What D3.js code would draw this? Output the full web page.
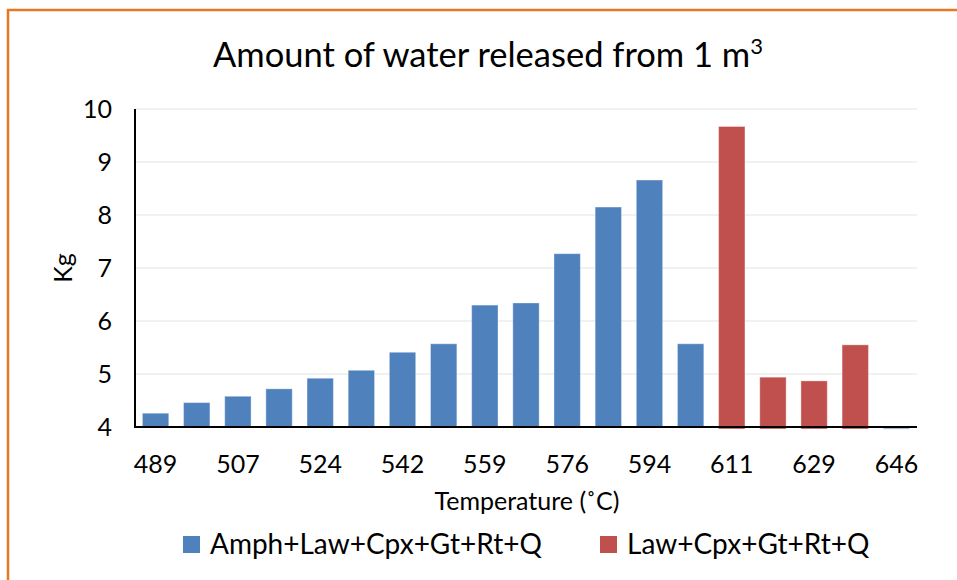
<!DOCTYPE html>
<html>
<head>
<meta charset="utf-8">
<script src="https://cdn.jsdelivr.net/npm/d3@7"></script>
<style>
  html, body { margin: 0; padding: 0; background: #fff; }
  svg { display: block; }
  text { font-family: Lato, "Open Sans", "Liberation Sans", sans-serif; fill: #000; }
</style>
</head>
<body>
<script>
// ---- data ----
const categories = [489, 498, 507, 515, 524, 533, 542, 550, 559, 567, 576, 585, 594, 602, 611, 620, 629, 637, 646];
const tickLabels = ["489", "507", "524", "542", "559", "576", "594", "611", "629", "646"];
const seriesNames = ["Amph+Law+Cpx+Gt+Rt+Q", "Law+Cpx+Gt+Rt+Q"];
const amphValues = [4.26, 4.46, 4.58, 4.72, 4.92, 5.07, 5.41, 5.57, 6.30, 6.34, 7.27, 8.15, 8.66, 5.57, null, null, null, null, 3.96];
const lawValues  = [null, null, null, null, null, null, null, null, null, null, null, null, null, null, 9.67, 4.94, 4.87, 5.55, null];
const yTicks = [4, 5, 6, 7, 8, 9, 10];
const colors = ["#4F81BD", "#C0504D"];

(function () {
const W = 957, H = 580;
const svg = d3.select("body").append("svg").attr("width", W).attr("height", H);

// frame
svg.append("rect").attr("x", 8).attr("y", 10).attr("width", W).attr("height", H)
  .attr("fill", "#fff").attr("stroke", "#E87722").attr("stroke-width", 2.5);

const pL = 135, pR = 917, pT = 109, pB = 427;

const x = d3.scaleBand().domain(categories).range([pL, pR]).paddingInner(0.36).paddingOuter(0.18);
const y = d3.scaleLinear().domain([4, 10]).range([pB, pT]);

// gridlines
svg.append("g").selectAll("line").data(yTicks.slice(1)).join("line")
  .attr("x1", pL).attr("x2", pR)
  .attr("y1", d => y(d)).attr("y2", d => y(d))
  .attr("stroke", "#EDEDED").attr("stroke-width", 1.5);

// bars
const base = 4;
function drawSeries(vals, color, extend) {
  const data = categories.map((c, i) => ({c, v: vals[i]})).filter(d => d.v != null);
  svg.append("g").selectAll("rect").data(data).join("rect")
    .attr("x", d => x(d.c))
    .attr("width", x.bandwidth())
    .attr("y", d => y(Math.max(d.v, base)))
    .attr("height", d => Math.abs(y(d.v) - y(base)) + extend)
    .attr("fill", color)
    .attr("fill-opacity", d => d.v < base ? 0.6 : 1)
    .attr("stroke", "#fff").attr("stroke-opacity", 0.35).attr("stroke-width", 1);
}
drawSeries(amphValues, colors[0], 0);
drawSeries(lawValues, colors[1], 2);

// axes lines
svg.append("line").attr("x1", pL).attr("x2", pR).attr("y1", pB).attr("y2", pB)
  .attr("stroke", "#000").attr("stroke-width", 2);
svg.append("line").attr("x1", pL).attr("x2", pL).attr("y1", pT).attr("y2", pB + 1)
  .attr("stroke", "#000").attr("stroke-width", 2);

// y tick labels
svg.append("g").selectAll("text").data(yTicks).join("text")
  .attr("x", 112).attr("y", d => y(d) + 9)
  .attr("text-anchor", "end").attr("font-size", 25)
  .text(d => d);

// x tick labels (every other category)
const labeled = categories.filter((c, i) => i % 2 === 0);
svg.append("g").selectAll("text").data(labeled).join("text")
  .attr("x", d => x(d) + x.bandwidth() / 2).attr("y", 473)
  .attr("text-anchor", "middle").attr("font-size", 25)
  .text((d, i) => tickLabels[i]);

// title
const title = svg.append("text").attr("x", 488).attr("y", 67)
  .attr("text-anchor", "middle").attr("font-size", 34.5);
title.append("tspan").text("Amount of water released from 1 m");
title.append("tspan").attr("dy", -13).attr("font-size", 22).text("3");

// axis titles
svg.append("text").attr("x", 527).attr("y", 510).attr("text-anchor", "middle")
  .attr("font-size", 25).text("Temperature (˚C)");
svg.append("text").attr("transform", "translate(72,268) rotate(-90)")
  .attr("text-anchor", "middle").attr("font-size", 25).text("Kg");

// legend
const legendX = [183, 600];
const lg = svg.append("g").selectAll("g").data(seriesNames).join("g")
  .attr("transform", (d, i) => `translate(${legendX[i]},536)`);
lg.append("rect").attr("width", 17).attr("height", 17).attr("fill", (d, i) => colors[i]);
lg.append("text").attr("x", 27).attr("y", 18).attr("font-size", 28).text(d => d);
})();
</script>
</body>
</html>
